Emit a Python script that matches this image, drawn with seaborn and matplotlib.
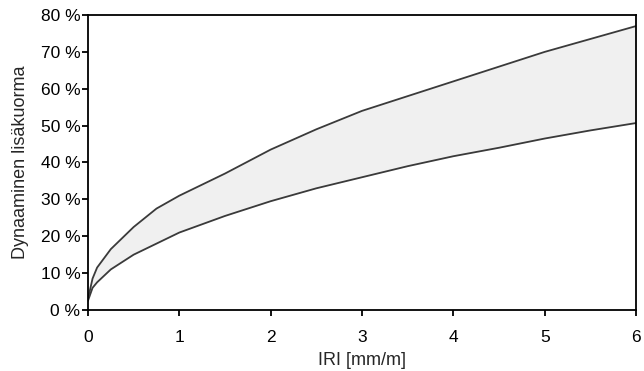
import numpy as np
import pandas as pd
import matplotlib
matplotlib.use("Agg")
import matplotlib.pyplot as plt
import seaborn as sns

# values
iri = [0, 0.05, 0.1, 0.25, 0.5, 0.75, 1, 1.5, 2, 2.5, 3, 3.5, 4, 4.5, 5, 5.5, 6]
upper = [3, 8.5, 11.5, 16.5, 22.5, 27.5, 31, 37, 43.5, 49, 54, 58, 62, 66, 70, 73.5, 77]
lower = [2.5, 6, 7.5, 11, 15, 18, 21, 25.5, 29.5, 33, 36, 39, 41.7, 44, 46.5, 48.7, 50.7]
yticks = [0, 10, 20, 30, 40, 50, 60, 70, 80]
xticks = [0, 1, 2, 3, 4, 5, 6]

sns.set_theme(style="ticks")
plt.rcParams["font.family"] = ["Liberation Sans", "DejaVu Sans"]

df = pd.DataFrame({"IRI": iri, "upper": upper, "lower": lower})

fig = plt.figure(figsize=(6.44, 3.71), dpi=100)
ax = fig.add_axes([0.1366, 0.1645, 0.851, 0.795])

ax.fill_between(df["IRI"], df["lower"], df["upper"], color="#f0f0f0", linewidth=0)
sns.lineplot(data=df, x="IRI", y="upper", ax=ax, color="#3a3a3a", linewidth=1.3)
sns.lineplot(data=df, x="IRI", y="lower", ax=ax, color="#3a3a3a", linewidth=1.3)

ax.set_xlim(0, 6)
ax.set_ylim(0, 80)
ax.set_xticks(xticks)
ax.set_yticks(yticks)
ax.set_yticklabels([f"{v} %" for v in yticks])
ax.tick_params(axis="both", direction="out", length=4.5, width=1.3, labelsize=12.5,
               colors="black")
ax.tick_params(axis="x", pad=10)
ax.tick_params(axis="y", pad=1)
for s in ax.spines.values():
    s.set_color("black")
    s.set_linewidth(1.3)

ax.set_xlabel("IRI [mm/m]", fontsize=13, labelpad=5)
ax.set_ylabel("Dynaaminen lisäkuorma", fontsize=13, labelpad=8)

fig.savefig("out.png", dpi=100)
